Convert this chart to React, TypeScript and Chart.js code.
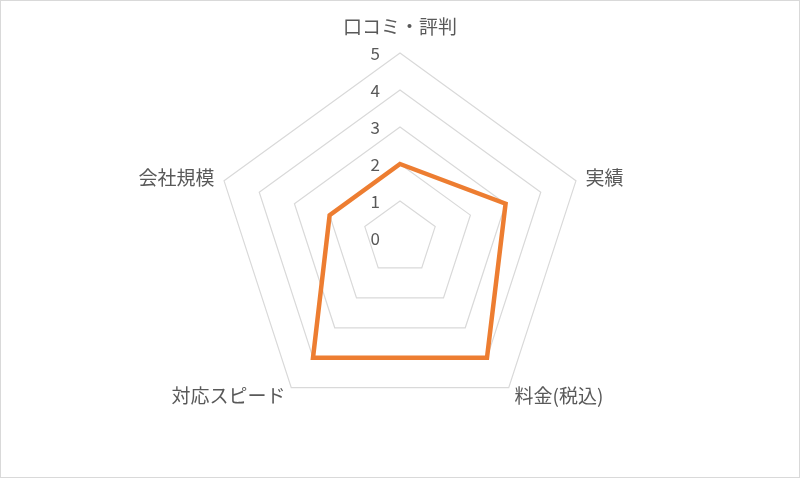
import { useEffect, useRef } from 'react'
import { Chart, registerables, type Plugin } from 'chart.js'

Chart.register(...registerables)

const categories = ['口コミ・評判', '実績', '料金(税込)', '対応スピード', '会社規模']
const scores = [2, 3, 4, 4, 2]
const tickValues = [0, 1, 2, 3, 4, 5]

const TEXT_COLOR = '#595959'
const GRID_COLOR = '#d9d9d9'
const LINE_COLOR = '#ED7D31'
const FONT = '"Noto Sans CJK JP", "Noto Sans", sans-serif'

// draws the category labels and the 0..5 ticks left of the vertical axis, like Excel does
const excelLabels: Plugin<'radar'> = {
  id: 'excelLabels',
  afterDraw(chart) {
    const scale = chart.scales.r as any
    if (!scale) return
    const { ctx } = chart
    const cx = scale.xCenter
    const cy = scale.yCenter
    const r = scale.drawingArea

    ctx.save()
    ctx.fillStyle = TEXT_COLOR

    ctx.font = `17px ${FONT}`
    ctx.textAlign = 'right'
    ctx.textBaseline = 'middle'
    tickValues.forEach((v) => {
      const d = scale.getDistanceFromCenterForValue(v)
      ctx.fillText(String(v), cx - 20, cy - d + 1)
    })

    ctx.font = `19px ${FONT}`
    categories.forEach((label, i) => {
      const pos = scale.getPointPosition(i, r + (i === 0 ? 26 : 10))
      const dx = pos.x - cx
      ctx.textAlign = Math.abs(dx) < 1 ? 'center' : dx > 0 ? 'left' : 'right'
      ctx.textBaseline = 'middle'
      ctx.fillText(label, pos.x, pos.y)
    })
    ctx.restore()
  },
}

export default function App() {
  const canvasRef = useRef<HTMLCanvasElement>(null)

  useEffect(() => {
    const canvas = canvasRef.current
    if (!canvas) return
    Chart.getChart(canvas)?.destroy()

    const chart = new Chart(canvas, {
      type: 'radar',
      data: {
        labels: categories,
        datasets: [
          {
            label: 'score',
            data: scores,
            borderColor: LINE_COLOR,
            borderWidth: 4.5,
            borderJoinStyle: 'miter',
            pointRadius: 0,
            pointHoverRadius: 0,
            fill: false,
            tension: 0,
          },
        ],
      },
      options: {
        responsive: true,
        maintainAspectRatio: false,
        animation: false,
        layout: { padding: { top: 53, bottom: 55, left: 0, right: 0 } },
        plugins: {
          legend: { display: false },
          tooltip: { enabled: false },
        },
        scales: {
          r: {
            min: 0,
            max: 5,
            ticks: { stepSize: 1, display: false },
            grid: { color: GRID_COLOR, lineWidth: 1.2 },
            angleLines: { display: false },
            pointLabels: { display: false },
          },
        },
      },
      plugins: [excelLabels],
    })

    return () => {
      chart.destroy()
    }
  }, [])

  return (
    <div style={{ position: 'fixed', left: 0, top: 0, width: 800, height: 478, background: '#fff' }}>
      <canvas ref={canvasRef} aria-label="レーダーチャート" />
      <div
        style={{
          position: 'absolute',
          inset: 0,
          border: '1.5px solid #d9d9d9',
          boxSizing: 'border-box',
          pointerEvents: 'none',
        }}
      />
    </div>
  )
}
